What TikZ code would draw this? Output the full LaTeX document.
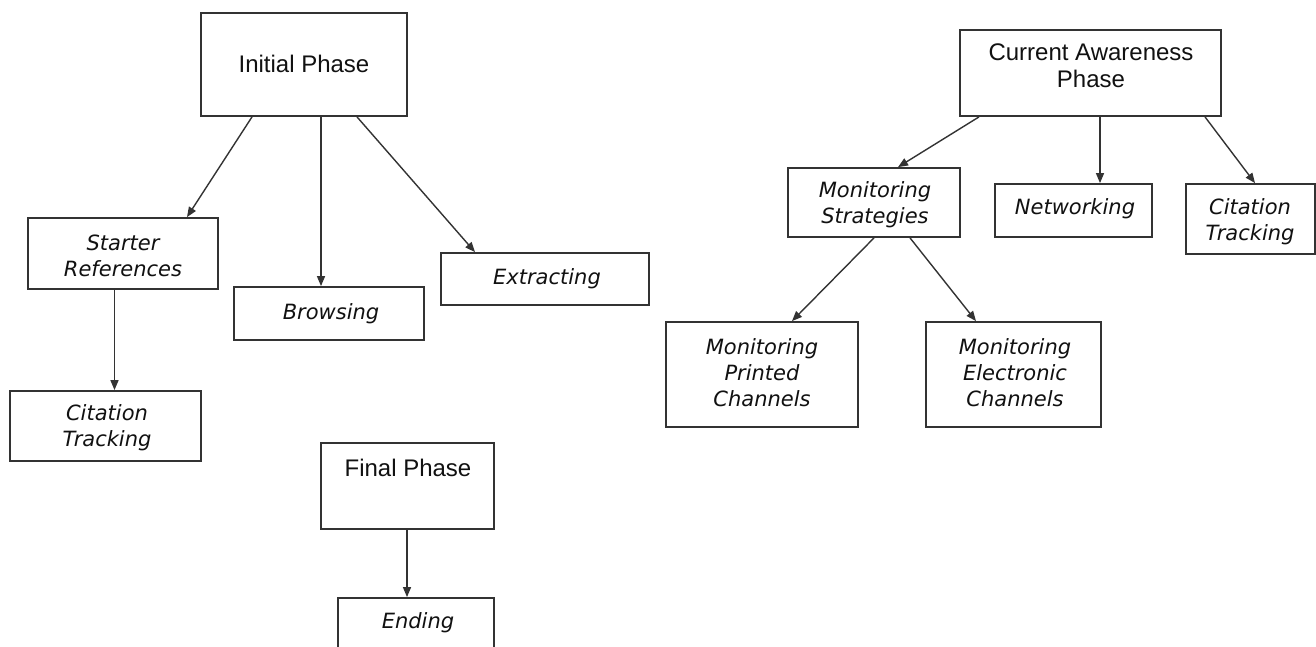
\documentclass[tikz,border=0pt]{standalone}
\usepackage{fontspec}
\newfontfamily\phasefont{Liberation Sans}
\newfontfamily\verdfont{DejaVu Sans}
\usetikzlibrary{arrows.meta}
\definecolor{lc}{HTML}{333333}
\definecolor{tc}{HTML}{111111}
\tikzset{
  box/.style={draw=lc, line width=1.8pt, fill=white, inner sep=0pt, anchor=center},
  phasetxt/.style={text=tc, align=center, inner sep=0pt, font=\phasefont\fontsize{24}{27}\selectfont},
  subtxt/.style={text=tc, align=center, inner sep=0pt, font=\verdfont\itshape\fontsize{21}{26}\selectfont},
  arr/.style={draw=lc, line width=1.4pt, -{Triangle[length=10pt,width=8pt]}}
}
\begin{document}
\begin{tikzpicture}[x=1pt,y=-1pt]
\useasboundingbox (0,0) rectangle (1316,647);
\clip (0,0) rectangle (1316,647);
% boxes
\node[box, minimum width=206pt, minimum height=103pt] (ip)  at (304,64.5) {};
\node[box, minimum width=190pt, minimum height=71pt]  (sr)  at (123,253.5) {};
\node[box, minimum width=190pt, minimum height=53pt]  (br)  at (329,313.5) {};
\node[box, minimum width=208pt, minimum height=52pt]  (ex)  at (545,279) {};
\node[box, minimum width=191pt, minimum height=70pt]  (ctl) at (105.5,426) {};
\node[box, minimum width=173pt, minimum height=86pt]  (fp)  at (407.5,486) {};
\node[box, minimum width=156pt, minimum height=80pt]  (en)  at (416,638) {};
\node[box, minimum width=261pt, minimum height=86pt]  (ca)  at (1090.5,73) {};
\node[box, minimum width=172pt, minimum height=69pt]  (ms)  at (874,202.5) {};
\node[box, minimum width=157pt, minimum height=53pt]  (nw)  at (1073.5,210.5) {};
\node[box, minimum width=129pt, minimum height=70pt]  (ctr) at (1250.5,219) {};
\node[box, minimum width=192pt, minimum height=105pt] (mp)  at (762,374.5) {};
\node[box, minimum width=175pt, minimum height=105pt] (me)  at (1013.5,374.5) {};
% texts
\node[phasetxt] (tip) at (304,64) {Initial Phase};
\node[phasetxt] (tfp) at (408,468) {Final Phase};
\node[phasetxt] (tca) at (1091,66) {Current Awareness\\Phase};
\node[subtxt] (tsr) at (123,256) {Starter\\References};
\node[subtxt] (tbr) at (331,314) {Browsing};
\node[subtxt] (tex) at (547,279) {Extracting};
\node[subtxt] (tctl) at (107,428) {Citation\\Tracking};
\node[subtxt] (ten) at (418,623) {Ending};
\node[subtxt] (tms) at (875,205) {Monitoring\\Strategies};
\node[subtxt] (tnw) at (1075,209) {Networking};
\node[subtxt] (tctr) at (1250,222) {Citation\\Tracking};
\node[subtxt] (tmp) at (762,373) {Monitoring\\Printed\\Channels};
\node[subtxt] (tme) at (1015,373) {Monitoring\\Electronic\\Channels};
% connectors
\draw[arr] ([xshift=-52pt]ip.south) -- ([xshift=64pt]sr.north);
\draw[arr] ([xshift=17pt]ip.south) -- ([xshift=-8pt]br.north);
\draw[arr] ([xshift=53pt]ip.south) -- ([xshift=-70pt]ex.north);
\draw[arr] ([xshift=-8.5pt]sr.south) -- ([xshift=9pt]ctl.north);
\draw[arr] ([xshift=-0.5pt]fp.south) -- ([xshift=-9pt]en.north);
\draw[arr] ([xshift=-111.5pt]ca.south) -- ([xshift=24pt]ms.north);
\draw[arr] ([xshift=9.5pt]ca.south) -- ([xshift=26.5pt]nw.north);
\draw[arr] ([xshift=114.5pt]ca.south) -- ([xshift=4.5pt]ctr.north);
\draw[arr] ([xshift=0pt]ms.south) -- ([xshift=30pt]mp.north);
\draw[arr] ([xshift=36pt]ms.south) -- ([xshift=-37.5pt]me.north);
\end{tikzpicture}
\end{document}
